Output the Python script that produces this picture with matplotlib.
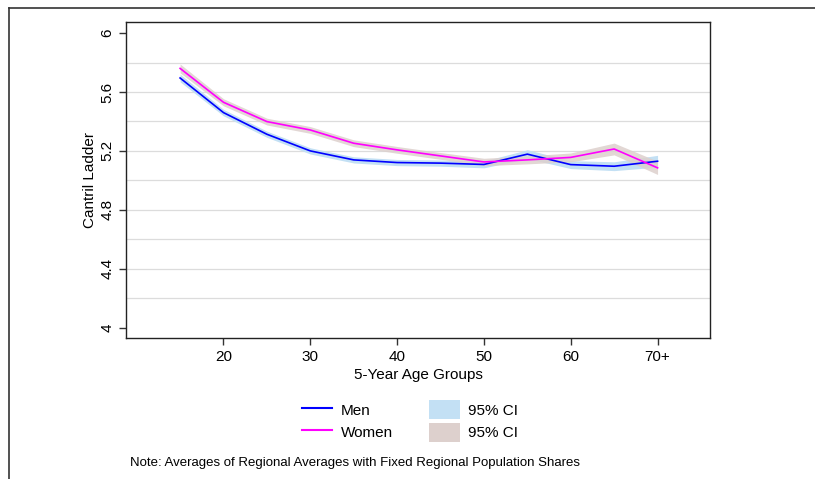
import matplotlib.pyplot as plt
import numpy as np
from matplotlib.lines import Line2D
from matplotlib.patches import Patch

plt.rcParams['font.family'] = ['Liberation Sans', 'DejaVu Sans']

# --- Données ---
ages = [15, 20, 25, 30, 35, 40, 45, 50, 55, 60, 65, 70]
men = [5.695, 5.46, 5.313, 5.20, 5.139, 5.121, 5.117, 5.108, 5.178, 5.107, 5.096, 5.130]
women = [5.76, 5.53, 5.399, 5.342, 5.252, 5.207, 5.166, 5.125, 5.139, 5.156, 5.213, 5.085]
men_ci = [0.026, 0.022, 0.021, 0.021, 0.021, 0.021, 0.021, 0.023, 0.03, 0.027, 0.03, 0.04]
women_ci = [0.03, 0.024, 0.023, 0.023, 0.023, 0.023, 0.023, 0.025, 0.027, 0.03, 0.04, 0.045]
xticks = [20, 30, 40, 50, 60, 70]
xlabels = ['20', '30', '40', '50', '60', '70+']
yticks = [4, 4.4, 4.8, 5.2, 5.6, 6]
ylabels = ['4', '4.4', '4.8', '5.2', '5.6', '6']

bleu_ci = '#c3e0f4'
brun_ci = '#ddd0cd'

fig = plt.figure(figsize=(8.15, 4.79), dpi=100)
ax = fig.add_axes([126/815, 1 - 338/479, (710-126)/815, (338-22)/479])

men = np.array(men)
women = np.array(women)
men_ci = np.array(men_ci)
women_ci = np.array(women_ci)

# Grille
for g in np.arange(4.2, 5.81, 0.2):
    ax.axhline(g, color='#dcdcdc', linewidth=0.9, zorder=0)

# Intervalles de confiance
ax.fill_between(ages, men - men_ci, men + men_ci, color=bleu_ci, linewidth=0, zorder=1)
ax.fill_between(ages, women - women_ci, women + women_ci, color=brun_ci, linewidth=0, alpha=0.85, zorder=2)

# Courbes
ax.plot(ages, men, color='#0000ff', linewidth=1.2, zorder=3)
ax.plot(ages, women, color='#ff00ff', linewidth=1.2, zorder=4)

# Limites
ax.set_xlim(8.77, 76.04)
ax.set_ylim(3.93, 6.075)
ax.set_xticks(xticks)
ax.set_xticklabels(xlabels, fontsize=11)
ax.set_yticks(yticks)
ax.set_yticklabels(ylabels, fontsize=11, rotation=90, va='center')
ax.tick_params(length=5, width=1, color='#333333')
for s in ax.spines.values():
    s.set_color('#222222')
    s.set_linewidth(1.0)

ax.set_xlabel('5-Year Age Groups', fontsize=11, labelpad=3)
ax.set_ylabel('Cantril Ladder', fontsize=11, labelpad=2)

# --- Légende ---
legend_elements = [
    Line2D([0], [0], color='#0000ff', lw=1.5, label='Men'),
    Line2D([0], [0], color='#ff00ff', lw=1.5, label='Women'),
    Patch(facecolor=bleu_ci, edgecolor='none', label='95% CI'),
    Patch(facecolor=brun_ci, edgecolor='none', label='95% CI'),
]
fig.legend(handles=legend_elements, loc='center', bbox_to_anchor=(410/815, 1 - 421/479),
           ncol=2, frameon=False, fontsize=11, handlelength=2.0, handleheight=1.5,
           columnspacing=2.4, labelspacing=0.25, handletextpad=0.55)

fig.text(130/815, 1 - 463/479, 'Note: Averages of Regional Averages with Fixed Regional Population Shares',
         fontsize=9.5, va='center', ha='left')

# Cadre extérieur
fig.add_artist(Line2D([9/815, 1], [1 - 8/479, 1 - 8/479], color='#333333', linewidth=1.2))
fig.add_artist(Line2D([9/815, 9/815], [0, 1 - 8/479], color='#333333', linewidth=1.2))

fig.savefig('out.png', dpi=100)
